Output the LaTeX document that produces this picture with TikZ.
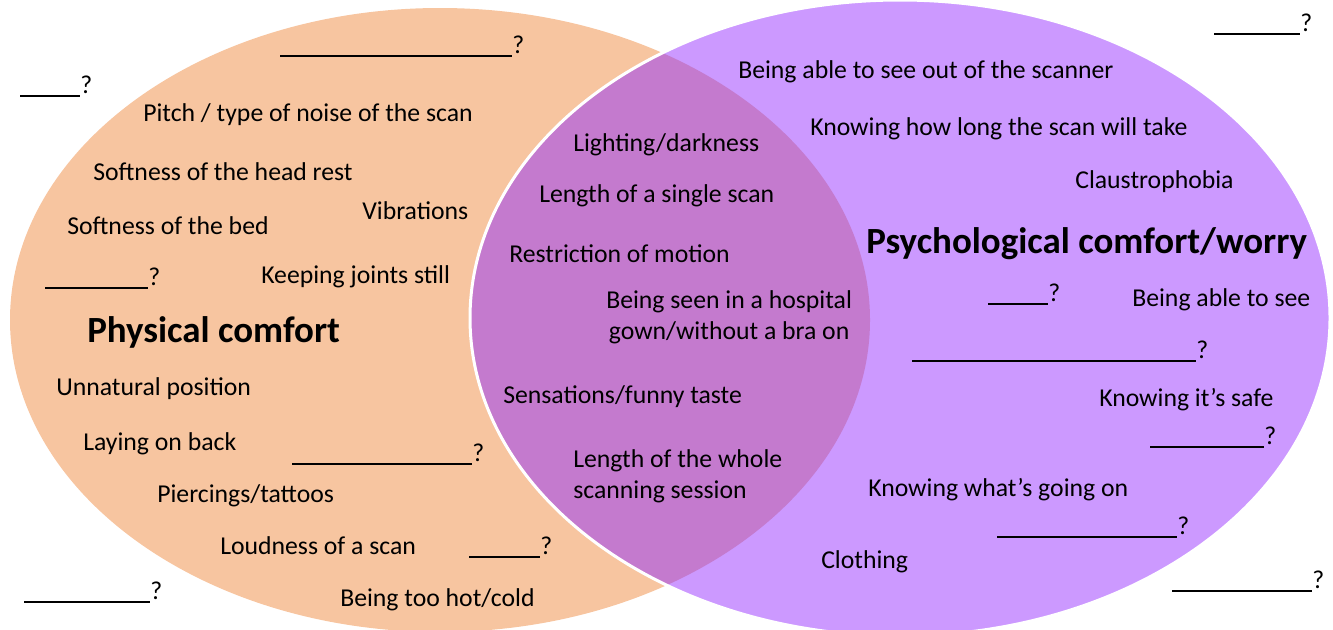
\documentclass[tikz,border=0pt]{standalone}
\usepackage{fontspec}
\setmainfont{Carlito}
\usepackage{tikz}

\definecolor{physorange}{RGB}{247,197,160}
\definecolor{psypurple}{RGB}{204,153,255}
\definecolor{bothpurple}{RGB}{196,122,206}

\newlength\unitlen
\setlength\unitlen{0.75pt}
\newcommand\blank[1]{\rule[-0.15em]{#1\unitlen}{0.075em}?}

\begin{document}
\begin{tikzpicture}[x=0.75pt, y=-0.75pt]
    \tikzstyle{item} = [anchor=base west, inner sep=0pt, font=\fontsize{19.3}{23.25}\selectfont]
    \tikzstyle{title} = [anchor=base west, inner sep=0pt, font=\fontsize{27.7}{33}\selectfont\bfseries]
    \useasboundingbox (0,0) rectangle (1333,629);
    % the two sets
    \fill[physorange] (440,320) ellipse [x radius=430, y radius=312];
    \fill[psypurple] (900,318) ellipse [x radius=430, y radius=318];
    \begin{scope}
        \clip (440,320) ellipse [x radius=430, y radius=312];
        \fill[bothpurple] (900,318) ellipse [x radius=430, y radius=318];
    \end{scope}
    \draw[white, line width=2.25pt] (900,318) ellipse [x radius=430, y radius=318];
    % physical comfort
    \node[title] (phys) at (87,342) {Physical comfort};
    \node[item] (pitch) at (143,121) {Pitch / type of noise of the scan};
    \node[item] (headrest) at (93,180) {Softness of the head rest};
    \node[item] (vibr) at (362,219) {Vibrations};
    \node[item] (bed) at (67,234) {Softness of the bed};
    \node[item] (joints) at (261,283) {Keeping joints still};
    \node[item] (unnat) at (56,395) {Unnatural position};
    \node[item] (back) at (83,450) {Laying on back};
    \node[item] (pierc) at (157,502) {Piercings/tattoos};
    \node[item] (loud) at (220,554) {Loudness of a scan};
    \node[item] (hot) at (340,606) {Being too hot/cold};
    % both
    \node[item] (light) at (573,151) {Lighting/darkness};
    \node[item] (single) at (539,202) {Length of a single scan};
    \node[item] (motion) at (509,262) {Restriction of motion};
    \node[item, align=center] (gown) at (606,339) {Being seen in a hospital\\gown/without a bra on};
    \node[item] (taste) at (503,403) {Sensations/funny taste};
    \node[item, align=left] (session) at (573,498) {Length of the whole\\scanning session};
    % psychological comfort/worry
    \node[title] (psy) at (866,253) {Psychological comfort/worry};
    \node[item] (seeout) at (738,78) {Being able to see out of the scanner};
    \node[item] (howlong) at (810,135) {Knowing how long the scan will take};
    \node[item] (claus) at (1075,188) {Claustrophobia};
    \node[item] (see) at (1132,306) {Being able to see};
    \node[item] (safe) at (1099,406) {Knowing it’s safe};
    \node[item] (goingon) at (868,496) {Knowing what’s going on};
    \node[item] (cloth) at (821,568) {Clothing};
    % blanks
    \foreach \i/\x/\y/\w in {1/280/53/232, 2/20/93/60, 3/45/285/103, 4/292/461/180,
        5/469/554/71, 6/24/599/126, 7/1214/31/86, 8/988/301/60, 9/912/358/284,
        10/1150/444/114, 11/997/534/180, 12/1172/588/140} {
        \node[item] (blank\i) at (\x,\y) {\blank{\w}};
    }
\end{tikzpicture}
\end{document}
